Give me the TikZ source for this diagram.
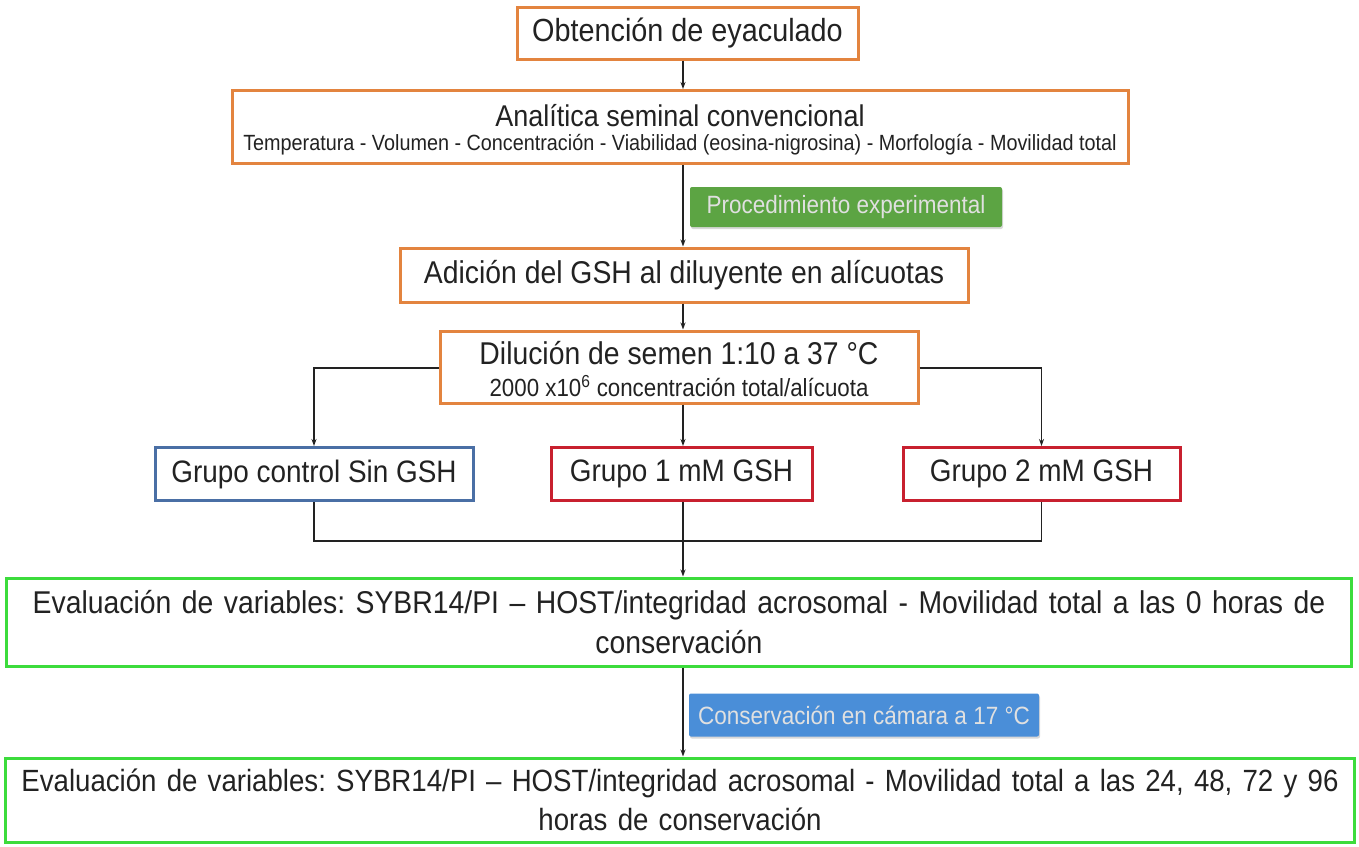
\documentclass[tikz,border=0pt]{standalone}
\usepackage{fontspec}
\setmainfont{Liberation Sans}[FakeStretch=0.9]
\usetikzlibrary{arrows.meta,calc,shadows}
\frenchspacing
\definecolor{orangeb}{HTML}{E3843F}
\definecolor{blueb}{HTML}{4A6FA5}
\definecolor{redb}{HTML}{C8202F}
\definecolor{greenb}{HTML}{3CDC3C}
\definecolor{pillg}{HTML}{5CA443}
\definecolor{pillb}{HTML}{4A8ED8}
\definecolor{ink}{HTML}{222222}
\tikzset{
  box/.style={draw, line width=3pt, fill=white, inner sep=0pt, align=center, text=ink},
  obox/.style={box, draw=orangeb},
  bbox/.style={box, draw=blueb},
  rbox/.style={box, draw=redb},
  gbox/.style={box, draw=greenb},
  txt/.style={inner sep=0pt, text=ink},
  pill/.style={inner sep=0pt, rounded corners=2pt, text=white!88!black, font=\fontsize{25}{28}\selectfont,
    drop shadow={opacity=0.3, shadow xshift=1pt, shadow yshift=-2pt}},
  arr/.style={line width=1.3pt, draw=ink, -{Stealth[length=7pt,width=5pt]}},
  ln/.style={line width=1.3pt, draw=ink},
}
\begin{document}
\begin{tikzpicture}[x=1pt,y=-1pt]
\useasboundingbox (0,0) rectangle (1359,846);
\fill[white] (0,0) rectangle (1359,846);
\coordinate (spine) at (683,0);
\node[obox, minimum width=341pt, minimum height=52pt, font=\fontsize{32}{36}\selectfont] (obt) at (687.5,33) {Obtención de eyaculado};
% Analitica
\node[obox, minimum width=896pt, minimum height=73pt] (ana) at (680,127) {};
\node[txt, font=\fontsize{30}{30}\selectfont] (anaT) at (680,116) {Analítica seminal convencional};
\node[txt, font=\fontsize{22}{24}\selectfont] (anaS) at (680,145) {Temperatura - Volumen - Concentración - Viabilidad (eosina-nigrosina) - Morfología - Movilidad total};
\node[pill, fill=pillg, minimum width=312pt, minimum height=40pt] (proc) at (846,207) {Procedimiento experimental};
\node[obox, minimum width=568pt, minimum height=54pt, font=\fontsize{31.5}{36}\selectfont] (adi) at (684,275) {Adición del GSH al diluyente en alícuotas};
% Dilucion
\node[obox, minimum width=478pt, minimum height=72pt] (dil) at (679,367) {};
\node[txt, font=\fontsize{31.5}{32}\selectfont] (dilT) at (679,353) {Dilución de semen 1:10 a 37 °C};
\node[txt, font=\fontsize{24.8}{26}\selectfont] (dilS) at (679,386) {2000 x10\textsuperscript{6} concentración total/alícuota};
\node[bbox, minimum width=318pt, minimum height=53pt, font=\fontsize{31}{36}\selectfont] (gc) at (314,474) {Grupo control Sin GSH};
\node[rbox, minimum width=261pt, minimum height=53pt, font=\fontsize{31}{36}\selectfont] (g1) at (681.5,474) {Grupo 1 mM GSH};
\node[rbox, minimum width=277pt, minimum height=53pt, font=\fontsize{31}{36}\selectfont] (g2) at (1041.5,474) {Grupo 2 mM GSH};
\node[gbox, minimum width=1345pt, minimum height=88pt, text width=1330pt, font=\fontsize{31.5}{40}\selectfont] (ev1) at (679,622)
  {Evaluación de variables: SYBR14/PI -- HOST/integridad acrosomal - Movilidad total a las 0 horas de\\ conservación};
\node[pill, fill=pillb, minimum width=350pt, minimum height=43pt] (cons) at (864,715) {Conservación en cámara a 17 °C};
\node[gbox, minimum width=1349pt, minimum height=84pt, text width=1340pt, font=\fontsize{30.7}{39}\selectfont] (ev2) at (680,800)
  {Evaluación de variables: SYBR14/PI -- HOST/integridad acrosomal - Movilidad total a las 24, 48, 72 y 96\\ horas de conservación};
% connectors
\draw[arr] (obt.south -| spine) -- (ana.north -| spine);
\draw[arr] (ana.south -| spine) -- (adi.north -| spine);
\draw[arr] (adi.south -| spine) -- (dil.north -| spine);
\draw[arr] (dil.south -| spine) -- (g1.north -| spine);
\draw[arr] (dil.west |- 0,368) -| (gc.north);
\draw[arr] (dil.east |- 0,368) -| (g2.north);
\coordinate (join) at (683,541);
\draw[ln] (gc.south) |- (join) -| (g2.south);
\draw[ln] (g1.south -| spine) -- (join);
\draw[arr] (join) -- (ev1.north -| spine);
\draw[arr] (ev1.south -| spine) -- (ev2.north -| spine);
\end{tikzpicture}
\end{document}
